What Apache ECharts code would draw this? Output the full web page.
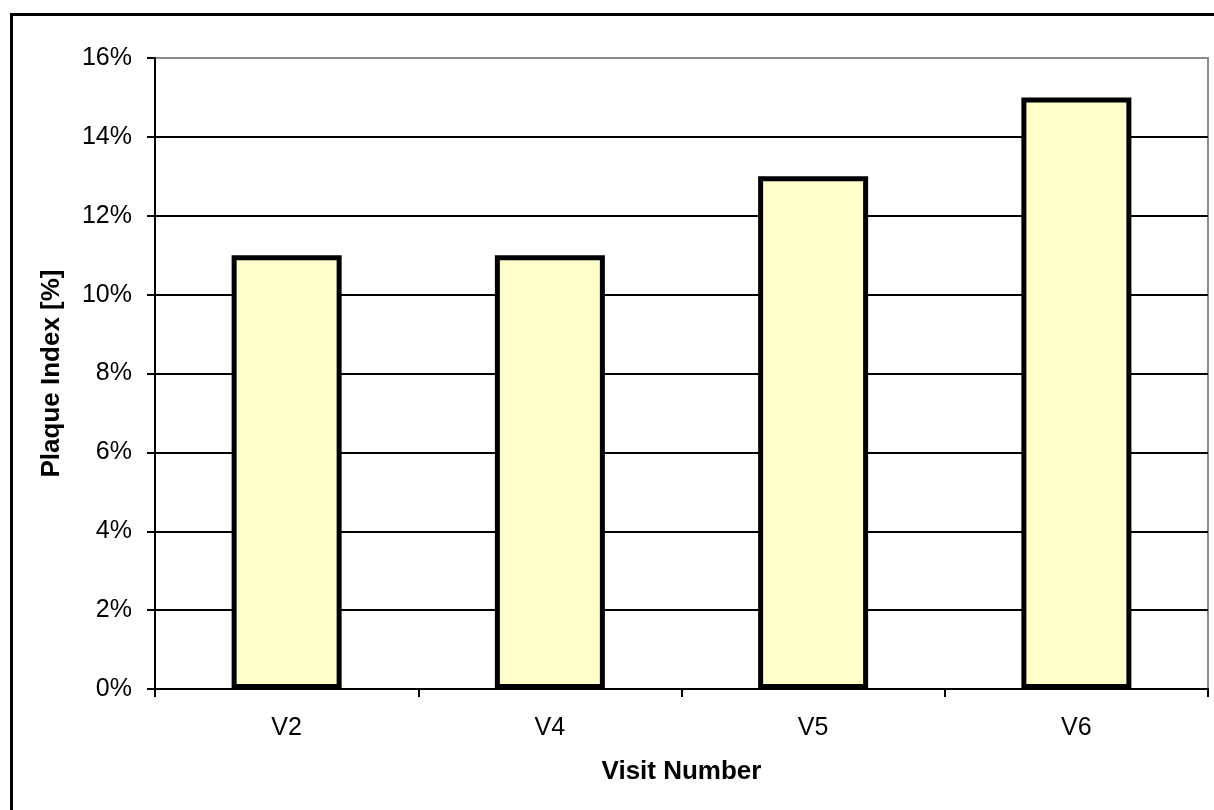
<!DOCTYPE html>
<html>
<head>
<meta charset="utf-8">
<script src="https://cdn.jsdelivr.net/npm/echarts@6/dist/echarts.min.js"></script>
<style>
  html, body { margin: 0; padding: 0; background: #fff; }
  #frame { position: absolute; left: 10px; top: 13px; width: 1220px; height: 820px; border: 3px solid #000; box-sizing: border-box; }
  #chart { position: absolute; left: 0; top: 0; width: 1214px; height: 810px; }
</style>
</head>
<body>
<div id="frame"></div>
<div id="chart"></div>
<script>
// Plaque index by visit
const visits = ['V2', 'V4', 'V5', 'V6'];
const plaqueIndex = [11, 11, 13, 15];
const yTicks = [0, 2, 4, 6, 8, 10, 12, 14, 16];

const font = '"Liberation Sans", Arial, sans-serif';
// every gridline black except the top one, which is the plot frame
const gridColors = yTicks.map((t, i) => i === yTicks.length - 1 ? '#8c8c8c' : '#000');

const chart = echarts.init(document.getElementById('chart'));
chart.setOption({
  animation: false,
  backgroundColor: 'transparent',
  grid: {
    left: 155, right: 6, top: 58, bottom: 121,
    show: true, borderColor: '#8c8c8c', borderWidth: 2, backgroundColor: 'transparent'
  },
  xAxis: {
    type: 'category',
    data: visits,
    boundaryGap: true,
    name: 'Visit Number',
    nameLocation: 'middle',
    nameGap: 70,
    nameTextStyle: { fontFamily: font, fontSize: 26, fontWeight: 'bold', color: '#000' },
    axisLine: { lineStyle: { color: '#000', width: 2 } },
    axisTick: { show: true, interval: 0, length: 8, lineStyle: { color: '#000', width: 2 } },
    axisLabel: { fontFamily: font, fontSize: 25, color: '#000', margin: 27 },
    splitLine: { show: false }
  },
  yAxis: {
    type: 'value',
    min: 0, max: 16, interval: 2,
    name: 'Plaque Index [%]',
    nameLocation: 'middle',
    nameGap: 90,
    nameRotate: 90,
    nameTextStyle: { fontFamily: font, fontSize: 26, fontWeight: 'bold', color: '#000' },
    axisLine: { show: true, lineStyle: { color: '#000', width: 2 } },
    axisTick: { show: true, length: 8, lineStyle: { color: '#000', width: 2 } },
    axisLabel: { fontFamily: font, fontSize: 25, color: '#000', margin: 23, formatter: '{value}%' },
    splitLine: { show: true, lineStyle: { color: gridColors, width: 2 } }
  },
  series: [{
    type: 'bar',
    data: plaqueIndex,
    barWidth: 110,
    itemStyle: { color: '#FFFFCC', borderColor: '#000', borderWidth: 5 }
  }]
});
</script>
</body>
</html>
